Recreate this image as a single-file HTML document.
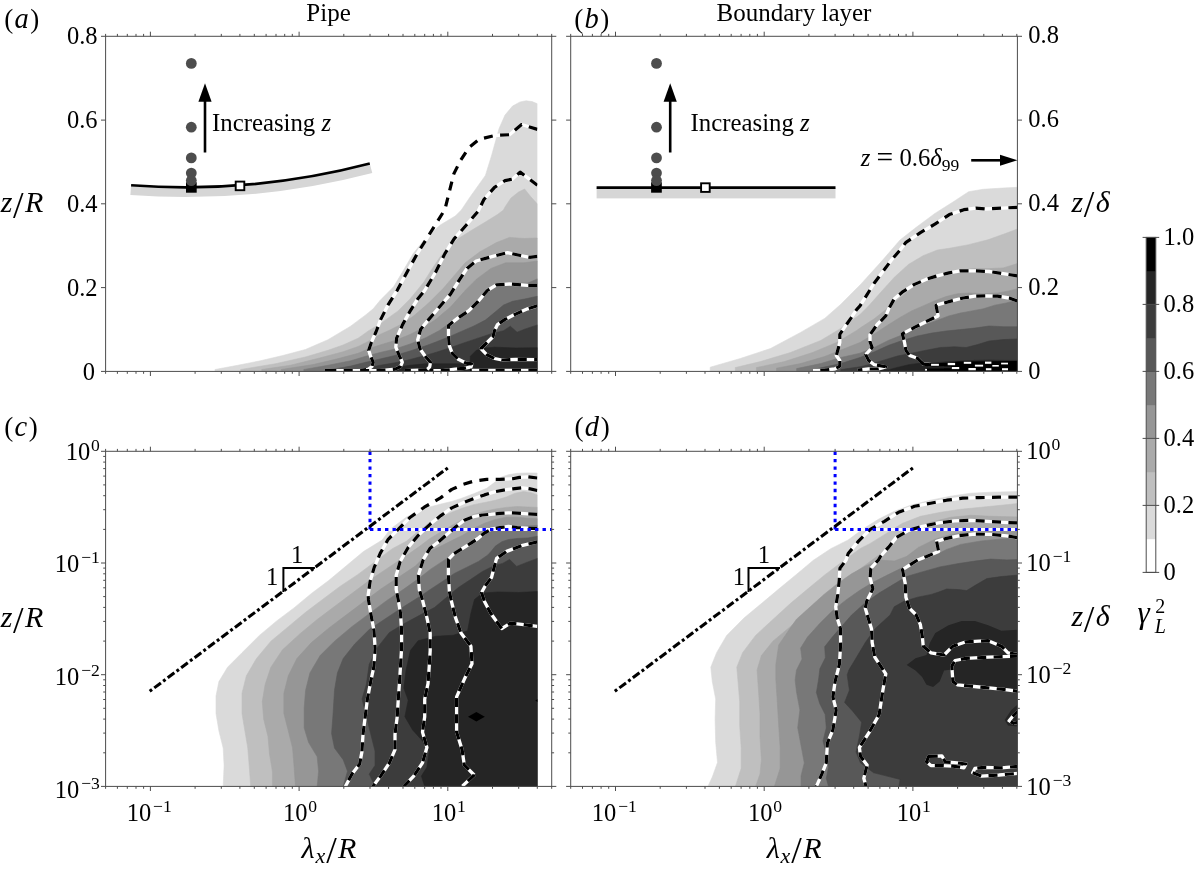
<!DOCTYPE html>
<html><head><meta charset="utf-8"><title>Figure</title>
<style>
html,body{margin:0;padding:0;background:#fff;}
body{width:1195px;height:872px;overflow:hidden;font-family:"Liberation Serif",serif;}
svg text{font-family:"Liberation Serif",serif;fill:#000;}
.i{font-style:italic}
</style></head><body>
<svg width="1195" height="872" viewBox="0 0 1195 872" style="display:block">
<rect width="1195" height="872" fill="#fff"/>
<defs>
<clipPath id="ca"><rect x="105.6" y="36.3" width="431.8" height="335.1"/></clipPath>
<clipPath id="cb"><rect x="570.7" y="36.3" width="446.7" height="335.1"/></clipPath>
<clipPath id="cc"><rect x="105.6" y="451.3" width="431.8" height="335.1"/></clipPath>
<clipPath id="cd"><rect x="570.7" y="451.3" width="446.7" height="335.1"/></clipPath>
</defs>
<g clip-path="url(#ca)">
<polygon points="537.4,103.8 532.1,101.6 526.1,100.8 520.1,101.9 512.5,106.1 505.0,115.1 499.0,128.7 491.5,155.8 485.4,175.4 470.4,196.5 461.3,210.0 455.3,216.0 440.3,225.0 425.2,238.6 413.1,253.7 402.6,271.8 393.6,286.8 380.0,300.5 373.2,308.8 365.7,314.9 350.6,326.2 328.0,339.7 305.4,349.5 282.8,355.5 260.3,360.8 237.7,365.3 215.0,369.5 215.0,373.4 537.4,373.4 537.4,103.8" fill="#dadada" stroke="#dadada" stroke-width="0.6"/>
<polygon points="537.4,204.0 530.6,196.5 524.6,189.0 518.6,192.0 511.0,198.0 505.0,207.0 503.5,210.0 497.5,214.5 485.4,222.0 470.4,231.0 458.3,238.6 447.8,247.7 440.3,256.7 431.2,270.2 423.7,282.3 410.1,298.9 398.1,310.9 380.0,323.9 368.7,330.7 358.2,338.2 343.1,345.0 328.0,350.3 305.4,357.0 275.3,363.8 240.7,369.5 240.7,373.4 537.4,373.4 537.4,204.0" fill="#bfbfbf" stroke="#bfbfbf" stroke-width="0.6"/>
<polygon points="537.3,238.0 524.1,238.5 509.4,237.4 496.5,242.6 479.9,251.8 465.2,262.8 454.1,275.7 443.1,288.6 428.4,303.3 413.6,316.0 400.8,324.5 390.0,330.0 380.0,334.5 368.7,341.2 358.2,346.5 343.1,351.8 320.5,357.8 290.4,365.3 261.8,369.5 261.8,373.4 537.4,373.4 537.4,238.0" fill="#aaaaaa" stroke="#aaaaaa" stroke-width="0.6"/>
<polygon points="537.3,261.0 524.1,262.8 505.7,262.8 491.0,268.4 476.2,279.4 465.2,290.5 450.5,307.0 435.7,319.5 421.0,329.0 410.0,334.5 395.0,340.5 380.0,345.0 368.7,348.7 358.2,353.3 335.6,359.3 313.0,364.6 281.3,369.5 281.3,373.4 537.4,373.4 537.4,261.0" fill="#969696" stroke="#969696" stroke-width="0.6"/>
<polygon points="537.3,278.9 527.8,283.1 505.7,283.1 492.8,286.8 479.9,297.8 468.9,308.9 454.1,319.9 439.4,330.5 425.2,338.0 410.1,344.0 395.1,349.0 380.0,352.5 365.7,356.3 350.6,360.8 328.0,365.3 303.9,369.5 303.9,373.4 537.4,373.4 537.4,278.9" fill="#787878" stroke="#787878" stroke-width="0.6"/>
<polygon points="537.4,296.3 524.6,299.0 512.5,301.3 503.5,305.1 494.5,312.6 485.4,320.1 473.4,326.2 461.3,331.4 449.3,336.7 437.2,341.5 425.2,346.0 410.1,351.0 395.1,355.5 380.0,359.0 365.7,362.3 350.6,366.1 331.0,369.5 331.0,373.4 537.4,373.4 537.4,296.3" fill="#585858" stroke="#585858" stroke-width="0.6"/>
<polygon points="537.4,324.9 524.6,329.2 517.1,332.2 510.3,326.2 503.5,330.7 491.5,333.7 477.9,338.2 464.4,342.7 450.8,347.5 437.2,352.0 425.2,355.5 410.1,359.5 395.1,362.8 380.0,365.3 358.0,370.0 358.0,373.4 537.4,373.4 537.4,324.9" fill="#3c3c3c" stroke="#3c3c3c" stroke-width="0.6"/>
<polygon points="537.4,347.7 515.6,348.0 494.5,347.2 485.4,348.0 476.4,350.3 470.4,356.3 470.1,363.8 440.3,363.8 425.2,363.8 410.1,365.3 395.1,367.6 380.0,369.8 380.0,373.4 537.4,373.4 537.4,347.7" fill="#252525" stroke="#252525" stroke-width="0.6"/>
</g>
<g clip-path="url(#cb)">
<polygon points="1017.4,187.3 1002.3,188.1 983.0,189.3 968.6,191.7 954.1,201.3 934.9,213.4 915.6,227.8 900.0,240.0 880.9,262.1 860.8,284.2 840.8,304.3 824.7,318.4 800.6,332.4 770.5,348.5 740.3,358.5 710.2,367.2 710.2,373.4 1017.4,373.4 1017.4,187.3" fill="#dadada" stroke="#dadada" stroke-width="0.6"/>
<polygon points="1017.4,229.0 1004.7,233.8 987.9,239.8 968.6,244.7 949.3,248.3 937.4,250.0 923.1,255.7 908.7,264.3 894.4,277.2 880.1,293.0 868.6,305.9 860.0,314.5 840.8,328.4 820.7,340.5 790.5,352.5 760.4,361.6 735.3,367.6 735.3,373.4 1017.4,373.4 1017.4,229.0" fill="#bfbfbf" stroke="#bfbfbf" stroke-width="0.6"/>
<polygon points="1017.4,263.6 1003.3,267.9 989.0,268.6 974.7,268.6 960.3,270.1 946.0,272.9 931.7,277.2 917.3,284.4 905.9,293.0 888.7,307.3 874.3,318.8 860.0,328.1 856.8,330.4 836.7,342.5 812.6,352.5 784.5,361.6 756.4,367.6 756.4,373.4 1017.4,373.4 1017.4,263.6" fill="#aaaaaa" stroke="#aaaaaa" stroke-width="0.6"/>
<polygon points="1017.4,288.7 1009.1,290.9 997.6,293.0 983.3,293.7 968.9,293.0 957.5,293.7 946.0,296.6 934.5,300.9 923.1,305.9 911.6,310.9 900.1,317.4 888.7,324.5 874.3,333.9 860.0,342.5 844.8,348.5 824.7,356.5 800.6,363.6 776.5,368.2 776.5,373.4 1017.4,373.4 1017.4,288.7" fill="#969696" stroke="#969696" stroke-width="0.6"/>
<polygon points="1017.4,300.2 1006.2,303.0 994.7,305.2 983.3,308.8 971.8,310.9 960.3,313.1 948.9,315.9 937.4,320.2 925.9,324.5 914.5,328.8 903.0,334.6 888.7,340.3 874.3,347.5 860.0,353.2 840.8,357.5 820.7,363.6 796.6,368.6 796.6,373.4 1017.4,373.4 1017.4,300.2" fill="#787878" stroke="#787878" stroke-width="0.6"/>
<polygon points="1017.4,326.7 1003.3,326.7 989.0,326.0 974.7,328.1 960.3,329.6 946.0,331.0 931.7,333.1 917.3,336.0 903.0,340.3 888.7,345.3 874.3,351.8 860.0,357.5 840.8,363.6 812.6,369.6 812.6,373.4 1017.4,373.4 1017.4,326.7" fill="#585858" stroke="#585858" stroke-width="0.6"/>
<polygon points="1017.4,338.9 1003.3,339.6 989.0,341.0 977.5,344.6 966.1,347.5 954.6,346.8 940.3,347.5 925.9,350.3 911.6,353.2 897.3,356.1 882.9,360.4 868.6,364.7 860.0,366.8 840.8,369.6 840.8,373.4 1017.4,373.4 1017.4,338.9" fill="#3c3c3c" stroke="#3c3c3c" stroke-width="0.6"/>
<polygon points="1017.4,360.4 1003.3,360.4 989.0,360.1 974.7,360.4 960.3,361.1 946.0,361.8 931.7,363.2 920.2,363.2 908.7,364.7 897.3,367.5 888.7,369.7 876.9,369.6 876.9,373.4 1017.4,373.4 1017.4,360.4" fill="#252525" stroke="#252525" stroke-width="0.6"/>
</g>
<g clip-path="url(#cc)">
<polygon points="537.3,473.1 528.1,472.9 517.2,473.3 508.5,474.7 501.9,476.9 495.4,481.8 486.7,488.3 473.6,493.8 460.5,498.7 451.8,501.4 440.9,504.1 430.0,506.9 422.3,509.2 406.3,517.2 390.2,529.3 382.2,540.0 363.4,551.6 346.1,566.0 328.7,580.5 311.4,593.5 294.0,607.9 276.7,620.9 259.4,635.4 242.0,652.7 227.6,667.2 218.9,681.6 216.0,696.1 216.0,713.4 218.9,730.8 223.2,748.1 224.1,765.4 223.2,786.4 223.2,788.4 537.4,788.4 537.4,473.1" fill="#dadada" stroke="#dadada" stroke-width="0.6"/>
<polygon points="537.3,494.9 531.3,492.7 523.7,491.6 515.0,493.2 506.3,497.0 495.4,500.3 484.5,502.5 473.6,504.7 462.7,507.9 451.8,512.3 440.9,517.2 430.0,522.1 418.3,531.3 406.3,541.3 392.3,548.7 375.0,561.7 357.6,574.7 340.3,586.2 322.9,599.2 305.6,612.3 288.3,626.7 270.9,641.2 256.5,658.5 246.4,675.8 242.0,693.2 242.0,713.4 244.9,730.8 247.8,748.1 249.2,765.4 250.7,786.4 250.7,788.4 537.4,788.4 537.4,494.9" fill="#bfbfbf" stroke="#bfbfbf" stroke-width="0.6"/>
<polygon points="537.3,507.4 528.1,507.1 517.2,506.6 506.3,507.4 495.4,509.0 484.5,511.2 473.6,514.5 462.7,519.4 451.8,525.4 440.9,531.9 430.0,538.5 418.3,547.3 403.9,557.3 386.5,568.9 369.2,580.5 351.8,593.5 334.5,606.5 317.2,619.5 299.8,633.9 282.5,649.8 270.9,667.2 265.1,684.5 262.3,701.8 263.7,719.2 268.0,736.5 269.5,753.9 272.4,771.2 272.4,786.4 272.4,788.4 537.4,788.4 537.4,507.4" fill="#aaaaaa" stroke="#aaaaaa" stroke-width="0.6"/>
<polygon points="537.3,518.8 528.1,518.3 517.2,517.2 506.3,517.2 495.4,519.4 484.5,523.2 473.6,528.6 462.7,535.2 451.8,540.6 440.9,546.1 430.0,551.5 415.4,566.0 398.1,577.6 380.8,589.1 363.4,602.1 346.1,615.1 328.7,628.2 311.4,642.6 296.9,658.5 288.3,675.8 283.9,693.2 283.9,713.4 288.3,730.8 292.6,748.1 294.0,765.4 295.5,786.4 295.5,788.4 537.4,788.4 537.4,518.8" fill="#969696" stroke="#969696" stroke-width="0.6"/>
<polygon points="537.3,525.4 528.1,525.9 495.4,529.7 486.7,531.9 477.9,538.5 469.2,545.0 460.5,550.4 451.8,555.0 442.4,561.4 430.3,569.4 420.0,577.6 403.9,589.1 386.5,600.7 369.2,613.7 351.8,626.7 334.5,641.2 320.1,655.6 309.9,673.0 305.6,690.3 304.2,707.6 304.2,727.9 308.5,742.3 317.2,756.8 318.6,771.2 317.2,786.4 317.2,788.4 537.4,788.4 537.4,525.4" fill="#787878" stroke="#787878" stroke-width="0.6"/>
<polygon points="537.3,536.3 528.1,537.9 517.2,538.5 508.5,539.5 501.9,541.7 495.4,546.1 491.0,551.5 487.8,555.0 478.5,561.4 466.5,567.4 454.4,573.4 442.4,581.5 430.3,589.5 420.0,596.4 403.9,606.5 386.5,618.0 369.2,629.6 354.7,644.0 343.2,658.5 337.4,673.0 334.5,690.3 333.1,713.4 331.6,733.6 334.5,748.1 343.2,759.7 347.5,771.2 343.2,786.4 343.2,788.4 537.4,788.4 537.4,536.3" fill="#585858" stroke="#585858" stroke-width="0.6"/>
<polygon points="537.3,558.4 526.7,562.4 516.6,566.4 509.6,559.4 502.6,563.4 494.6,565.4 482.5,571.4 470.5,579.5 458.4,587.5 446.4,597.5 434.4,607.6 420.0,615.1 403.9,623.8 389.4,632.5 377.9,646.9 369.2,664.3 366.3,684.5 362.0,699.0 366.3,716.3 370.6,733.6 375.0,751.0 375.0,765.4 369.2,774.1 375.0,786.4 375.0,788.4 537.4,788.4 537.4,558.4" fill="#3c3c3c" stroke="#3c3c3c" stroke-width="0.6"/>
<polygon points="537.3,591.5 518.6,592.5 498.6,591.9 482.5,593.1 474.5,599.5 470.9,613.2 467.6,630.8 453.3,635.2 435.7,636.3 418.1,640.7 410.4,650.6 406.0,670.5 403.8,688.1 408.2,700.2 404.9,716.7 412.6,729.9 422.5,740.9 429.1,751.9 426.9,767.3 421.4,776.1 424.7,786.4 424.7,788.4 537.4,788.4 537.4,591.5" fill="#252525" stroke="#252525" stroke-width="0.6"/>
<polygon points="468.0,716.7 476.4,711.9 484.8,716.7 476.4,721.5" fill="#000000"/>
<polygon points="538.0,699.0 535.2,700.6 538.0,702.2" fill="#000000"/>
</g>
<g clip-path="url(#cd)">
<polygon points="1017.4,491.6 990.8,492.2 970.8,493.2 950.7,496.2 930.6,500.2 910.5,505.3 894.4,511.3 878.4,519.3 862.3,529.4 848.1,540.0 830.8,548.7 813.4,560.2 796.1,574.7 778.7,589.1 761.4,603.6 744.0,618.0 726.7,635.4 716.6,652.7 710.8,667.2 712.3,681.6 715.7,699.0 715.1,719.2 715.7,742.3 717.5,762.5 712.3,777.0 707.9,786.4 707.9,788.4 1017.4,788.4 1017.4,491.6" fill="#dadada" stroke="#dadada" stroke-width="0.6"/>
<polygon points="1017.4,503.6 1000.9,505.3 980.8,507.3 960.7,509.3 940.6,512.3 920.5,516.3 902.5,523.3 886.4,533.4 870.3,543.4 860.0,548.7 842.3,561.7 825.0,574.7 807.6,589.1 790.3,603.6 772.9,619.5 755.6,635.4 742.6,652.7 736.8,667.2 738.3,684.5 739.7,701.8 739.7,725.0 741.2,748.1 741.2,768.3 735.4,786.4 735.4,788.4 1017.4,788.4 1017.4,503.6" fill="#bfbfbf" stroke="#bfbfbf" stroke-width="0.6"/>
<polygon points="1017.4,516.9 990.8,516.3 970.8,515.3 950.7,517.3 930.6,522.3 914.5,528.4 902.5,535.4 890.4,545.4 878.4,555.5 860.0,568.9 842.3,581.9 825.0,596.4 807.6,610.8 790.3,626.7 772.9,641.2 761.4,655.6 757.1,670.1 758.5,690.3 760.0,713.4 760.0,736.5 761.4,759.7 760.0,774.1 755.6,786.4 755.6,788.4 1017.4,788.4 1017.4,516.9" fill="#aaaaaa" stroke="#aaaaaa" stroke-width="0.6"/>
<polygon points="1017.4,529.6 990.8,530.4 970.8,531.4 950.7,534.4 934.6,539.4 918.5,547.4 906.5,556.5 894.4,561.0 879.1,560.0 865.3,566.2 851.6,573.8 837.8,583.4 824.0,594.4 810.3,606.8 796.5,619.2 790.3,628.0 778.7,645.0 775.8,665.0 775.8,678.7 777.3,701.8 778.7,725.0 780.2,748.1 780.2,768.3 774.4,786.4 774.4,788.4 1017.4,788.4 1017.4,529.6" fill="#969696" stroke="#969696" stroke-width="0.6"/>
<polygon points="1017.4,537.8 1000.9,539.0 980.8,541.0 960.7,544.4 946.7,549.4 934.6,555.5 923.1,560.0 914.9,562.8 901.1,568.3 887.3,575.1 873.6,582.0 859.8,590.3 846.1,599.9 832.3,610.9 819.9,623.3 807.5,637.1 800.6,648.1 802.0,659.1 796.5,670.1 795.1,680.0 796.6,692.5 799.9,710.1 797.7,727.7 801.0,745.3 804.3,762.9 801.0,776.1 801.0,786.4 801.0,788.4 1017.4,788.4 1017.4,537.8" fill="#787878" stroke="#787878" stroke-width="0.6"/>
<polygon points="1017.4,559.5 1006.9,559.9 990.8,559.1 974.8,561.1 958.7,563.5 940.0,566.9 920.4,572.4 906.6,576.5 892.8,584.8 879.1,593.0 865.3,602.7 851.6,615.0 841.9,626.1 832.3,637.1 824.7,646.7 825.4,657.7 819.9,668.7 818.5,680.0 816.4,692.5 819.7,703.5 825.2,714.5 826.3,727.7 823.0,740.9 826.3,754.1 828.5,767.3 826.3,778.3 828.5,786.4 828.5,788.4 1017.4,788.4 1017.4,559.5" fill="#585858" stroke="#585858" stroke-width="0.6"/>
<polygon points="1017.4,575.1 1000.9,576.6 986.8,578.6 974.8,585.6 966.7,590.6 958.7,589.6 946.7,589.0 940.0,591.6 931.4,594.4 917.6,597.2 903.9,601.3 894.2,606.8 890.1,615.0 875.0,628.8 865.3,642.6 857.1,656.3 848.8,670.1 847.2,674.9 849.4,690.3 844.6,702.4 852.7,711.2 861.6,722.2 859.4,736.5 856.0,751.9 860.5,762.9 873.7,772.8 886.9,776.1 900.1,779.4 899.0,786.4 899.0,788.4 1017.4,788.4 1017.4,575.1" fill="#3c3c3c" stroke="#3c3c3c" stroke-width="0.6"/>
<polygon points="1019.0,629.7 1001.4,630.8 988.2,625.3 974.9,620.9 961.7,620.9 948.5,625.3 935.3,633.0 929.8,642.9 926.5,655.0 915.5,658.3 906.7,664.9 915.5,670.5 922.1,677.1 926.5,684.8 933.1,687.0 939.7,681.5 944.1,670.5 951.8,669.4 952.9,681.5 957.3,684.8 979.3,687.0 1001.4,689.2 1019.0,691.4" fill="#252525"/>
<polygon points="1019.0,703.5 1011.3,710.1 1004.7,720.0 1008.0,725.5 1019.0,726.6" fill="#252525"/>
</g>

<g clip-path="url(#cc)"><path d="M370.0 451.3 V529.4 H551.7" stroke="#fff" stroke-width="3" fill="none"/></g>
<g clip-path="url(#cd)"><path d="M835.1 451.3 V529.4 H1017.4" stroke="#fff" stroke-width="3" fill="none"/></g>
<g clip-path="url(#ca)" fill="none" stroke-linejoin="round">
<path d="M537.4 129.4 L521.6 124.5 L509.5 134.7 L494.5 135.5 L479.4 139.2 L468.9 147.5 L460.6 160.3 L453.8 173.9 L448.6 194.7 L444.9 209.5 L435.7 224.2 L426.5 238.9 L417.3 253.6 L408.1 270.2 L397.1 290.5 L387.9 305.2 L380.5 319.9 L376.0 332.0 L371.5 342.0 L368.7 350.2 L370.5 356.0 L373.2 362.3 L372.0 366.5 L368.0 369.3 L358.0 370.6 L325.0 370.6" stroke="#fff" stroke-width="3.3"/>
<path d="M537.4 129.4 L521.6 124.5 L509.5 134.7 L494.5 135.5 L479.4 139.2 L468.9 147.5 L460.6 160.3 L453.8 173.9 L448.6 194.7 L444.9 209.5 L435.7 224.2 L426.5 238.9 L417.3 253.6 L408.1 270.2 L397.1 290.5 L387.9 305.2 L380.5 319.9 L376.0 332.0 L371.5 342.0 L368.7 350.2 L370.5 356.0 L373.2 362.3 L372.0 366.5 L368.0 369.3 L358.0 370.6 L325.0 370.6" stroke="#000" stroke-width="3.2" stroke-dasharray="9 7.4"/>
<path d="M537.4 185.2 L520.1 172.1 L512.5 179.1 L505.0 180.6 L494.5 187.4 L483.9 199.5 L478.1 211.3 L467.0 224.2 L454.1 238.9 L444.9 253.6 L435.7 272.0 L424.7 290.5 L417.7 299.0 L410.1 311.1 L402.6 324.6 L396.6 338.2 L395.8 347.2 L399.6 356.3 L402.3 362.3 L400.3 366.8 L395.1 369.1 L380.0 370.6 L330.0 370.6" stroke="#fff" stroke-width="3.3"/>
<path d="M537.4 185.2 L520.1 172.1 L512.5 179.1 L505.0 180.6 L494.5 187.4 L483.9 199.5 L478.1 211.3 L467.0 224.2 L454.1 238.9 L444.9 253.6 L435.7 272.0 L424.7 290.5 L417.7 299.0 L410.1 311.1 L402.6 324.6 L396.6 338.2 L395.8 347.2 L399.6 356.3 L402.3 362.3 L400.3 366.8 L395.1 369.1 L380.0 370.6 L330.0 370.6" stroke="#000" stroke-width="3.2" stroke-dasharray="9 7.4"/>
<path d="M537.3 256.4 L529.6 257.3 L520.4 255.5 L507.5 252.7 L492.8 256.4 L476.2 261.0 L467.0 268.4 L459.7 279.4 L450.5 294.1 L439.4 307.0 L428.4 319.9 L420.7 329.2 L417.7 339.7 L419.9 348.7 L425.2 356.3 L430.5 362.3 L429.7 366.8 L426.7 369.8 L405.0 370.6" stroke="#fff" stroke-width="3.3"/>
<path d="M537.3 256.4 L529.6 257.3 L520.4 255.5 L507.5 252.7 L492.8 256.4 L476.2 261.0 L467.0 268.4 L459.7 279.4 L450.5 294.1 L439.4 307.0 L428.4 319.9 L420.7 329.2 L417.7 339.7 L419.9 348.7 L425.2 356.3 L430.5 362.3 L429.7 366.8 L426.7 369.8 L405.0 370.6" stroke="#000" stroke-width="3.2" stroke-dasharray="9 7.4"/>
<path d="M537.3 285.3 L527.8 285.3 L509.4 284.0 L496.5 284.9 L487.3 290.5 L478.1 301.5 L468.9 310.7 L457.8 318.1 L448.5 325.4 L448.5 335.2 L449.3 345.7 L452.3 353.3 L458.3 359.3 L465.9 363.1 L471.9 363.8 L471.1 366.8 L464.4 368.3 L455.3 369.1 L443.3 370.6 L430.0 370.6" stroke="#fff" stroke-width="3.3"/>
<path d="M537.3 285.3 L527.8 285.3 L509.4 284.0 L496.5 284.9 L487.3 290.5 L478.1 301.5 L468.9 310.7 L457.8 318.1 L448.5 325.4 L448.5 335.2 L449.3 345.7 L452.3 353.3 L458.3 359.3 L465.9 363.1 L471.9 363.8 L471.1 366.8 L464.4 368.3 L455.3 369.1 L443.3 370.6 L430.0 370.6" stroke="#000" stroke-width="3.2" stroke-dasharray="9 7.4"/>
<path d="M537.4 305.8 L527.6 308.8 L515.6 314.1 L505.0 319.4 L497.5 324.6 L494.5 330.7 L493.0 336.7 L486.9 342.7 L480.9 348.7 L486.9 354.8 L494.5 358.5 L502.0 360.0 L515.6 359.3 L537.4 359.6" stroke="#fff" stroke-width="3.3"/>
<path d="M537.4 305.8 L527.6 308.8 L515.6 314.1 L505.0 319.4 L497.5 324.6 L494.5 330.7 L493.0 336.7 L486.9 342.7 L480.9 348.7 L486.9 354.8 L494.5 358.5 L502.0 360.0 L515.6 359.3 L537.4 359.6" stroke="#000" stroke-width="3.2" stroke-dasharray="9 7.4"/>
<path d="M537.4 370.3 L470.0 370.3" stroke="#fff" stroke-width="3.3"/>
<path d="M537.4 370.3 L470.0 370.3" stroke="#000" stroke-width="3.2" stroke-dasharray="9 7.4"/>
</g>
<g clip-path="url(#cb)" fill="none" stroke-linejoin="round">
<path d="M1017.4 207.3 L1002.3 208.1 L985.5 209.0 L975.8 208.1 L963.8 209.7 L949.3 214.6 L934.9 224.2 L920.4 232.6 L906.0 242.3 L900.1 250.0 L891.5 260.0 L882.9 271.5 L874.3 283.0 L867.2 294.4 L860.0 305.9 L856.8 309.3 L850.8 318.4 L843.8 328.4 L839.8 334.4 L839.8 342.5 L837.7 350.5 L836.3 355.5 L839.8 360.5 L839.8 366.2 L834.7 369.0 L824.7 370.2 L812.6 370.6" stroke="#fff" stroke-width="3.3"/>
<path d="M1017.4 207.3 L1002.3 208.1 L985.5 209.0 L975.8 208.1 L963.8 209.7 L949.3 214.6 L934.9 224.2 L920.4 232.6 L906.0 242.3 L900.1 250.0 L891.5 260.0 L882.9 271.5 L874.3 283.0 L867.2 294.4 L860.0 305.9 L856.8 309.3 L850.8 318.4 L843.8 328.4 L839.8 334.4 L839.8 342.5 L837.7 350.5 L836.3 355.5 L839.8 360.5 L839.8 366.2 L834.7 369.0 L824.7 370.2 L812.6 370.6" stroke="#000" stroke-width="3.2" stroke-dasharray="9 7.4"/>
<path d="M1017.4 275.8 L1003.3 273.7 L989.0 271.5 L974.7 270.8 L960.3 270.8 L948.9 272.9 L937.4 275.8 L925.9 279.4 L914.5 284.4 L903.0 291.6 L894.4 298.7 L888.7 308.8 L885.8 315.9 L877.2 324.5 L870.0 334.6 L870.0 341.7 L872.2 347.5 L865.7 354.6 L868.6 360.4 L874.3 364.7 L885.8 366.8 L878.6 369.0 L868.6 369.0 L857.8 370.2" stroke="#fff" stroke-width="3.3"/>
<path d="M1017.4 275.8 L1003.3 273.7 L989.0 271.5 L974.7 270.8 L960.3 270.8 L948.9 272.9 L937.4 275.8 L925.9 279.4 L914.5 284.4 L903.0 291.6 L894.4 298.7 L888.7 308.8 L885.8 315.9 L877.2 324.5 L870.0 334.6 L870.0 341.7 L872.2 347.5 L865.7 354.6 L868.6 360.4 L874.3 364.7 L885.8 366.8 L878.6 369.0 L868.6 369.0 L857.8 370.2" stroke="#000" stroke-width="3.2" stroke-dasharray="9 7.4"/>
<path d="M1017.4 300.9 L1009.1 298.0 L997.6 296.2 L986.1 295.9 L974.7 296.2 L963.2 298.0 L951.7 300.9 L936.0 305.2 L938.1 315.9 L925.9 321.7 L914.5 327.4 L902.3 333.9 L904.4 341.7 L905.9 350.3 L909.5 355.4 L917.3 358.2 L923.1 364.0 L931.7 364.7" stroke="#fff" stroke-width="3.3"/>
<path d="M1017.4 300.9 L1009.1 298.0 L997.6 296.2 L986.1 295.9 L974.7 296.2 L963.2 298.0 L951.7 300.9 L936.0 305.2 L938.1 315.9 L925.9 321.7 L914.5 327.4 L902.3 333.9 L904.4 341.7 L905.9 350.3 L909.5 355.4 L917.3 358.2 L923.1 364.0 L931.7 364.7" stroke="#000" stroke-width="3.2" stroke-dasharray="9 7.4"/>
</g>
<g clip-path="url(#cc)" fill="none" stroke-linejoin="round">
<path d="M537.3 478.0 L528.1 476.9 L519.4 477.4 L512.8 478.7 L499.7 479.4 L486.7 479.4 L473.6 481.2 L462.7 484.5 L451.8 489.4 L440.9 497.6 L424.3 507.2 L410.3 517.2 L398.2 529.3 L388.2 539.3 L380.2 553.4 L374.2 567.4 L370.1 581.5 L368.1 595.5 L368.5 600.0 L370.7 613.2 L374.0 630.8 L375.1 648.4 L374.0 666.1 L370.7 681.5 L367.4 699.1 L365.2 716.7 L363.0 734.3 L361.9 751.9 L359.7 764.0 L352.0 773.9 L345.4 786.4" stroke="#fff" stroke-width="3.3"/>
<path d="M537.3 478.0 L528.1 476.9 L519.4 477.4 L512.8 478.7 L499.7 479.4 L486.7 479.4 L473.6 481.2 L462.7 484.5 L451.8 489.4 L440.9 497.6 L424.3 507.2 L410.3 517.2 L398.2 529.3 L388.2 539.3 L380.2 553.4 L374.2 567.4 L370.1 581.5 L368.1 595.5 L368.5 600.0 L370.7 613.2 L374.0 630.8 L375.1 648.4 L374.0 666.1 L370.7 681.5 L367.4 699.1 L365.2 716.7 L363.0 734.3 L361.9 751.9 L359.7 764.0 L352.0 773.9 L345.4 786.4" stroke="#000" stroke-width="3.2" stroke-dasharray="9 7.4"/>
<path d="M537.3 490.5 L530.3 488.9 L522.6 487.8 L512.8 488.9 L506.3 489.6 L495.4 491.6 L484.5 494.9 L473.6 498.7 L462.7 503.0 L451.8 507.9 L440.9 515.6 L430.0 524.3 L418.3 535.3 L408.3 547.3 L400.2 561.4 L396.2 575.4 L396.2 589.5 L398.3 600.0 L400.5 613.2 L401.6 630.8 L401.6 648.4 L400.5 666.1 L399.4 683.7 L398.3 699.1 L397.2 716.7 L395.0 734.3 L395.0 749.7 L389.4 762.9 L380.6 776.1 L372.9 786.4" stroke="#fff" stroke-width="3.3"/>
<path d="M537.3 490.5 L530.3 488.9 L522.6 487.8 L512.8 488.9 L506.3 489.6 L495.4 491.6 L484.5 494.9 L473.6 498.7 L462.7 503.0 L451.8 507.9 L440.9 515.6 L430.0 524.3 L418.3 535.3 L408.3 547.3 L400.2 561.4 L396.2 575.4 L396.2 589.5 L398.3 600.0 L400.5 613.2 L401.6 630.8 L401.6 648.4 L400.5 666.1 L399.4 683.7 L398.3 699.1 L397.2 716.7 L395.0 734.3 L395.0 749.7 L389.4 762.9 L380.6 776.1 L372.9 786.4" stroke="#000" stroke-width="3.2" stroke-dasharray="9 7.4"/>
<path d="M537.3 514.3 L528.1 513.9 L517.2 513.2 L508.5 512.8 L499.7 513.4 L491.0 514.3 L482.3 515.0 L473.6 516.7 L464.9 519.9 L456.2 526.5 L447.4 534.1 L438.7 541.7 L430.0 548.3 L423.3 559.4 L418.3 575.4 L419.3 589.5 L422.5 600.0 L426.9 617.6 L430.2 633.0 L430.2 650.6 L429.1 668.3 L428.0 683.7 L424.7 699.1 L424.7 716.7 L422.5 732.1 L426.9 747.5 L422.5 762.9 L413.7 776.1 L403.8 786.4" stroke="#fff" stroke-width="3.3"/>
<path d="M537.3 514.3 L528.1 513.9 L517.2 513.2 L508.5 512.8 L499.7 513.4 L491.0 514.3 L482.3 515.0 L473.6 516.7 L464.9 519.9 L456.2 526.5 L447.4 534.1 L438.7 541.7 L430.0 548.3 L423.3 559.4 L418.3 575.4 L419.3 589.5 L422.5 600.0 L426.9 617.6 L430.2 633.0 L430.2 650.6 L429.1 668.3 L428.0 683.7 L424.7 699.1 L424.7 716.7 L422.5 732.1 L426.9 747.5 L422.5 762.9 L413.7 776.1 L403.8 786.4" stroke="#000" stroke-width="3.2" stroke-dasharray="9 7.4"/>
<path d="M537.3 528.6 L528.1 528.1 L517.2 527.6 L508.5 526.5 L499.7 527.6 L491.0 529.2 L484.5 533.0 L477.9 538.5 L471.4 542.8 L462.7 548.3 L454.0 553.7 L448.4 559.4 L448.4 575.4 L449.4 591.5 L451.1 600.0 L455.5 617.6 L461.0 633.0 L470.9 646.2 L472.0 663.8 L464.3 679.3 L456.6 696.9 L456.6 714.5 L456.6 732.1 L462.1 749.7 L464.3 765.1 L474.2 775.0 L462.1 786.4" stroke="#fff" stroke-width="3.3"/>
<path d="M537.3 528.6 L528.1 528.1 L517.2 527.6 L508.5 526.5 L499.7 527.6 L491.0 529.2 L484.5 533.0 L477.9 538.5 L471.4 542.8 L462.7 548.3 L454.0 553.7 L448.4 559.4 L448.4 575.4 L449.4 591.5 L451.1 600.0 L455.5 617.6 L461.0 633.0 L470.9 646.2 L472.0 663.8 L464.3 679.3 L456.6 696.9 L456.6 714.5 L456.6 732.1 L462.1 749.7 L464.3 765.1 L474.2 775.0 L462.1 786.4" stroke="#000" stroke-width="3.2" stroke-dasharray="9 7.4"/>
<path d="M537.3 541.9 L522.7 545.3 L506.6 551.4 L496.6 558.4 L493.6 569.4 L491.5 577.5 L485.5 585.5 L481.5 592.5 L484.5 601.5 L490.7 613.2 L501.7 628.6 L510.5 623.1 L523.7 624.7 L537.3 626.4" stroke="#fff" stroke-width="3.3"/>
<path d="M537.3 541.9 L522.7 545.3 L506.6 551.4 L496.6 558.4 L493.6 569.4 L491.5 577.5 L485.5 585.5 L481.5 592.5 L484.5 601.5 L490.7 613.2 L501.7 628.6 L510.5 623.1 L523.7 624.7 L537.3 626.4" stroke="#000" stroke-width="3.2" stroke-dasharray="9 7.4"/>
</g>
<g clip-path="url(#cd)" fill="none" stroke-linejoin="round">
<path d="M1017.4 497.2 L998.9 497.2 L978.8 497.6 L962.7 498.2 L946.7 500.2 L930.6 503.2 L914.5 506.3 L898.5 512.3 L884.4 521.3 L870.3 529.4 L858.3 541.4 L848.2 553.5 L846.1 560.0 L839.9 568.3 L839.2 580.6 L837.8 594.4 L835.7 606.8 L837.1 617.8 L840.5 628.8 L840.6 644.0 L839.5 663.8 L835.1 681.5 L832.9 696.9 L836.2 710.1 L832.9 729.9 L827.4 743.1 L826.3 762.9 L821.9 773.9 L816.4 786.4" stroke="#fff" stroke-width="3.3"/>
<path d="M1017.4 497.2 L998.9 497.2 L978.8 497.6 L962.7 498.2 L946.7 500.2 L930.6 503.2 L914.5 506.3 L898.5 512.3 L884.4 521.3 L870.3 529.4 L858.3 541.4 L848.2 553.5 L846.1 560.0 L839.9 568.3 L839.2 580.6 L837.8 594.4 L835.7 606.8 L837.1 617.8 L840.5 628.8 L840.6 644.0 L839.5 663.8 L835.1 681.5 L832.9 696.9 L836.2 710.1 L832.9 729.9 L827.4 743.1 L826.3 762.9 L821.9 773.9 L816.4 786.4" stroke="#000" stroke-width="3.2" stroke-dasharray="9 7.4"/>
<path d="M1017.4 522.9 L1002.9 522.3 L986.8 521.3 L970.8 520.3 L954.7 520.9 L938.6 522.9 L922.6 526.3 L908.5 530.4 L896.4 537.4 L888.4 547.4 L880.4 556.5 L878.4 560.0 L870.8 568.3 L870.1 577.9 L872.9 588.9 L866.7 601.3 L865.3 608.2 L868.1 617.8 L871.5 628.8 L872.2 642.6 L874.8 657.2 L885.8 673.8 L882.5 692.5 L879.2 714.5 L869.3 732.1 L859.4 747.5 L860.5 756.3 L867.1 765.1 L863.8 778.3 L866.0 786.4" stroke="#fff" stroke-width="3.3"/>
<path d="M1017.4 522.9 L1002.9 522.3 L986.8 521.3 L970.8 520.3 L954.7 520.9 L938.6 522.9 L922.6 526.3 L908.5 530.4 L896.4 537.4 L888.4 547.4 L880.4 556.5 L878.4 560.0 L870.8 568.3 L870.1 577.9 L872.9 588.9 L866.7 601.3 L865.3 608.2 L868.1 617.8 L871.5 628.8 L872.2 642.6 L874.8 657.2 L885.8 673.8 L882.5 692.5 L879.2 714.5 L869.3 732.1 L859.4 747.5 L860.5 756.3 L867.1 765.1 L863.8 778.3 L866.0 786.4" stroke="#000" stroke-width="3.2" stroke-dasharray="9 7.4"/>
<path d="M1017.4 537.8 L1006.9 535.8 L990.8 534.4 L974.8 534.0 L958.7 535.8 L946.7 538.4 L936.6 541.4 L938.6 551.4 L926.6 556.5 L917.6 560.0 L902.5 569.6 L905.2 583.4 L905.9 597.2 L909.4 608.2 L916.2 615.0 L920.4 624.7 L922.4 637.1 L923.2 646.2 L930.9 652.8 L944.1 655.0 L952.9 646.2 L966.1 641.8 L988.2 640.7 L1001.4 646.2 L1008.0 652.8 L1019.0 655.0" stroke="#fff" stroke-width="3.3"/>
<path d="M1017.4 537.8 L1006.9 535.8 L990.8 534.4 L974.8 534.0 L958.7 535.8 L946.7 538.4 L936.6 541.4 L938.6 551.4 L926.6 556.5 L917.6 560.0 L902.5 569.6 L905.2 583.4 L905.9 597.2 L909.4 608.2 L916.2 615.0 L920.4 624.7 L922.4 637.1 L923.2 646.2 L930.9 652.8 L944.1 655.0 L952.9 646.2 L966.1 641.8 L988.2 640.7 L1001.4 646.2 L1008.0 652.8 L1019.0 655.0" stroke="#000" stroke-width="3.2" stroke-dasharray="9 7.4"/>
<path d="M1019.0 656.1 L988.2 657.2 L966.1 658.3 L955.1 660.5 L951.8 666.1 L952.9 681.5 L957.3 684.8 L979.3 687.0 L1001.4 689.2 L1019.0 691.4" stroke="#fff" stroke-width="3.3"/>
<path d="M1019.0 656.1 L988.2 657.2 L966.1 658.3 L955.1 660.5 L951.8 666.1 L952.9 681.5 L957.3 684.8 L979.3 687.0 L1001.4 689.2 L1019.0 691.4" stroke="#000" stroke-width="3.2" stroke-dasharray="9 7.4"/>
<path d="M1019.0 710.1 L1012.4 716.7 L1009.1 720.7 L1013.5 723.3 L1019.0 722.2" stroke="#fff" stroke-width="3.3"/>
<path d="M1019.0 710.1 L1012.4 716.7 L1009.1 720.7 L1013.5 723.3 L1019.0 722.2" stroke="#000" stroke-width="3.2" stroke-dasharray="9 7.4"/>
<path d="M928.7 756.3 L941.9 755.9 L945.2 761.8 L957.3 762.9 L966.1 764.0 L963.9 767.8 L952.9 766.2 L941.9 765.6 L930.9 765.6 L926.5 761.8Z" stroke="#fff" stroke-width="3.3"/>
<path d="M928.7 756.3 L941.9 755.9 L945.2 761.8 L957.3 762.9 L966.1 764.0 L963.9 767.8 L952.9 766.2 L941.9 765.6 L930.9 765.6 L926.5 761.8Z" stroke="#000" stroke-width="3.2" stroke-dasharray="9 7.4"/>
<path d="M1019.0 766.2 L1001.4 767.8 L983.7 767.3 L974.9 768.4 L972.7 772.8 L981.5 776.1 L999.2 775.0 L1019.0 773.3" stroke="#fff" stroke-width="3.3"/>
<path d="M1019.0 766.2 L1001.4 767.8 L983.7 767.3 L974.9 768.4 L972.7 772.8 L981.5 776.1 L999.2 775.0 L1019.0 773.3" stroke="#000" stroke-width="3.2" stroke-dasharray="9 7.4"/>
</g>
<g clip-path="url(#cb)">
<path d="M921.5 362.4 L923.3 364.2 L931 364.8 L948 364.4" stroke="#000" stroke-width="3.2" fill="none" stroke-linejoin="round"/>
<path d="M926 369.9 H953" stroke="#000" stroke-width="2.8" fill="none"/>
<polygon points="944,363.4 958,361.5 1018,361.1 1018,372 944,372 944,368.4 951,368.4 951,366.6 944,366.2" fill="#000"/>
<rect x="931.1" y="363.8" width="7.8" height="2.0" fill="#fff"/>
<rect x="947.7" y="362.9" width="7.4" height="2.3" fill="#fff"/>
<rect x="951.8" y="367.0" width="7.4" height="2.1" fill="#fff"/>
<rect x="963.8" y="361.8" width="7.4" height="2.0" fill="#fff"/>
<rect x="968.4" y="368.0" width="7.4" height="2.3" fill="#fff"/>
<rect x="974.9" y="364.7" width="8.2" height="1.9" fill="#fff"/>
<rect x="985.0" y="361.6" width="6.4" height="2.2" fill="#fff"/>
<rect x="985.9" y="368.2" width="5.5" height="2.1" fill="#fff"/>
<rect x="992.3" y="365.0" width="6.5" height="1.6" fill="#fff"/>
<rect x="1001.1" y="362.7" width="6.9" height="1.7" fill="#fff"/>
<rect x="1002.0" y="368.2" width="6.0" height="2.1" fill="#fff"/>
<rect x="925.1" y="368.9" width="1.9" height="1.8" fill="#fff"/>
</g>
<path d="M370.0 451.5 V529.4" stroke="#0000ff" stroke-width="3" stroke-dasharray="3.4 4.07" fill="none"/>
<path d="M370.0 529.4 H551.7" stroke="#0000ff" stroke-width="3" stroke-dasharray="3.4 4.1" fill="none"/>
<path d="M835.1 451.5 V529.4" stroke="#0000ff" stroke-width="3" stroke-dasharray="3.4 4.07" fill="none"/>
<path d="M835.1 529.4 H1017.4" stroke="#0000ff" stroke-width="3" stroke-dasharray="3.4 4.1" fill="none"/>
<g stroke="#4d4d4d" stroke-width="1" fill="none">
<rect x="105.6" y="36.3" width="446.1" height="335.1"/>
</g>
<path d="M105.6 371.4 v2.4 M105.6 36.3 v-2.4 M117.4 371.4 v2.4 M117.4 36.3 v-2.4 M127.3 371.4 v2.4 M127.3 36.3 v-2.4 M136.0 371.4 v2.4 M136.0 36.3 v-2.4 M143.6 371.4 v2.4 M143.6 36.3 v-2.4 M150.4 371.4 v4.6 M150.4 36.3 v-4.6 M195.1 371.4 v2.4 M195.1 36.3 v-2.4 M221.3 371.4 v2.4 M221.3 36.3 v-2.4 M239.9 371.4 v2.4 M239.9 36.3 v-2.4 M254.3 371.4 v2.4 M254.3 36.3 v-2.4 M266.1 371.4 v2.4 M266.1 36.3 v-2.4 M276.0 371.4 v2.4 M276.0 36.3 v-2.4 M284.7 371.4 v2.4 M284.7 36.3 v-2.4 M292.3 371.4 v2.4 M292.3 36.3 v-2.4 M299.1 371.4 v4.6 M299.1 36.3 v-4.6 M343.8 371.4 v2.4 M343.8 36.3 v-2.4 M370.0 371.4 v2.4 M370.0 36.3 v-2.4 M388.6 371.4 v2.4 M388.6 36.3 v-2.4 M403.0 371.4 v2.4 M403.0 36.3 v-2.4 M414.8 371.4 v2.4 M414.8 36.3 v-2.4 M424.7 371.4 v2.4 M424.7 36.3 v-2.4 M433.4 371.4 v2.4 M433.4 36.3 v-2.4 M441.0 371.4 v2.4 M441.0 36.3 v-2.4 M447.8 371.4 v4.6 M447.8 36.3 v-4.6 M492.5 371.4 v2.4 M492.5 36.3 v-2.4 M518.7 371.4 v2.4 M518.7 36.3 v-2.4 M537.3 371.4 v2.4 M537.3 36.3 v-2.4 M551.7 371.4 v2.4 M551.7 36.3 v-2.4" stroke="#4d4d4d" stroke-width="1" fill="none"/>
<g stroke="#4d4d4d" stroke-width="1" fill="none">
<rect x="105.6" y="451.3" width="446.1" height="335.1"/>
</g>
<path d="M105.6 786.4 v2.4 M105.6 451.3 v-2.4 M117.4 786.4 v2.4 M117.4 451.3 v-2.4 M127.3 786.4 v2.4 M127.3 451.3 v-2.4 M136.0 786.4 v2.4 M136.0 451.3 v-2.4 M143.6 786.4 v2.4 M143.6 451.3 v-2.4 M150.4 786.4 v4.6 M150.4 451.3 v-4.6 M195.1 786.4 v2.4 M195.1 451.3 v-2.4 M221.3 786.4 v2.4 M221.3 451.3 v-2.4 M239.9 786.4 v2.4 M239.9 451.3 v-2.4 M254.3 786.4 v2.4 M254.3 451.3 v-2.4 M266.1 786.4 v2.4 M266.1 451.3 v-2.4 M276.0 786.4 v2.4 M276.0 451.3 v-2.4 M284.7 786.4 v2.4 M284.7 451.3 v-2.4 M292.3 786.4 v2.4 M292.3 451.3 v-2.4 M299.1 786.4 v4.6 M299.1 451.3 v-4.6 M343.8 786.4 v2.4 M343.8 451.3 v-2.4 M370.0 786.4 v2.4 M370.0 451.3 v-2.4 M388.6 786.4 v2.4 M388.6 451.3 v-2.4 M403.0 786.4 v2.4 M403.0 451.3 v-2.4 M414.8 786.4 v2.4 M414.8 451.3 v-2.4 M424.7 786.4 v2.4 M424.7 451.3 v-2.4 M433.4 786.4 v2.4 M433.4 451.3 v-2.4 M441.0 786.4 v2.4 M441.0 451.3 v-2.4 M447.8 786.4 v4.6 M447.8 451.3 v-4.6 M492.5 786.4 v2.4 M492.5 451.3 v-2.4 M518.7 786.4 v2.4 M518.7 451.3 v-2.4 M537.3 786.4 v2.4 M537.3 451.3 v-2.4 M551.7 786.4 v2.4 M551.7 451.3 v-2.4" stroke="#4d4d4d" stroke-width="1" fill="none"/>
<g stroke="#4d4d4d" stroke-width="1" fill="none">
<rect x="570.7" y="36.3" width="446.7" height="335.1"/>
</g>
<path d="M570.7 371.4 v2.4 M570.7 36.3 v-2.4 M582.5 371.4 v2.4 M582.5 36.3 v-2.4 M592.4 371.4 v2.4 M592.4 36.3 v-2.4 M601.1 371.4 v2.4 M601.1 36.3 v-2.4 M608.7 371.4 v2.4 M608.7 36.3 v-2.4 M615.5 371.4 v4.6 M615.5 36.3 v-4.6 M660.2 371.4 v2.4 M660.2 36.3 v-2.4 M686.4 371.4 v2.4 M686.4 36.3 v-2.4 M705.0 371.4 v2.4 M705.0 36.3 v-2.4 M719.4 371.4 v2.4 M719.4 36.3 v-2.4 M731.2 371.4 v2.4 M731.2 36.3 v-2.4 M741.1 371.4 v2.4 M741.1 36.3 v-2.4 M749.8 371.4 v2.4 M749.8 36.3 v-2.4 M757.4 371.4 v2.4 M757.4 36.3 v-2.4 M764.2 371.4 v4.6 M764.2 36.3 v-4.6 M808.9 371.4 v2.4 M808.9 36.3 v-2.4 M835.1 371.4 v2.4 M835.1 36.3 v-2.4 M853.7 371.4 v2.4 M853.7 36.3 v-2.4 M868.1 371.4 v2.4 M868.1 36.3 v-2.4 M879.9 371.4 v2.4 M879.9 36.3 v-2.4 M889.8 371.4 v2.4 M889.8 36.3 v-2.4 M898.5 371.4 v2.4 M898.5 36.3 v-2.4 M906.1 371.4 v2.4 M906.1 36.3 v-2.4 M912.9 371.4 v4.6 M912.9 36.3 v-4.6 M957.6 371.4 v2.4 M957.6 36.3 v-2.4 M983.8 371.4 v2.4 M983.8 36.3 v-2.4 M1002.4 371.4 v2.4 M1002.4 36.3 v-2.4 M1016.8 371.4 v2.4 M1016.8 36.3 v-2.4" stroke="#4d4d4d" stroke-width="1" fill="none"/>
<g stroke="#4d4d4d" stroke-width="1" fill="none">
<rect x="570.7" y="451.3" width="446.7" height="335.1"/>
</g>
<path d="M570.7 786.4 v2.4 M570.7 451.3 v-2.4 M582.5 786.4 v2.4 M582.5 451.3 v-2.4 M592.4 786.4 v2.4 M592.4 451.3 v-2.4 M601.1 786.4 v2.4 M601.1 451.3 v-2.4 M608.7 786.4 v2.4 M608.7 451.3 v-2.4 M615.5 786.4 v4.6 M615.5 451.3 v-4.6 M660.2 786.4 v2.4 M660.2 451.3 v-2.4 M686.4 786.4 v2.4 M686.4 451.3 v-2.4 M705.0 786.4 v2.4 M705.0 451.3 v-2.4 M719.4 786.4 v2.4 M719.4 451.3 v-2.4 M731.2 786.4 v2.4 M731.2 451.3 v-2.4 M741.1 786.4 v2.4 M741.1 451.3 v-2.4 M749.8 786.4 v2.4 M749.8 451.3 v-2.4 M757.4 786.4 v2.4 M757.4 451.3 v-2.4 M764.2 786.4 v4.6 M764.2 451.3 v-4.6 M808.9 786.4 v2.4 M808.9 451.3 v-2.4 M835.1 786.4 v2.4 M835.1 451.3 v-2.4 M853.7 786.4 v2.4 M853.7 451.3 v-2.4 M868.1 786.4 v2.4 M868.1 451.3 v-2.4 M879.9 786.4 v2.4 M879.9 451.3 v-2.4 M889.8 786.4 v2.4 M889.8 451.3 v-2.4 M898.5 786.4 v2.4 M898.5 451.3 v-2.4 M906.1 786.4 v2.4 M906.1 451.3 v-2.4 M912.9 786.4 v4.6 M912.9 451.3 v-4.6 M957.6 786.4 v2.4 M957.6 451.3 v-2.4 M983.8 786.4 v2.4 M983.8 451.3 v-2.4 M1002.4 786.4 v2.4 M1002.4 451.3 v-2.4 M1016.8 786.4 v2.4 M1016.8 451.3 v-2.4" stroke="#4d4d4d" stroke-width="1" fill="none"/>
<path d="M105.6 371.4 h-4.6 M105.6 287.6 h-4.6 M105.6 203.8 h-4.6 M105.6 120.1 h-4.6 M105.6 36.3 h-4.6" stroke="#4d4d4d" stroke-width="1" fill="none"/>
<path d="M551.7 371.4 h4.6 M551.7 287.6 h4.6 M551.7 203.8 h4.6 M551.7 120.1 h4.6 M551.7 36.3 h4.6" stroke="#4d4d4d" stroke-width="1" fill="none"/>
<path d="M570.7 371.4 h-4.6 M570.7 287.6 h-4.6 M570.7 203.8 h-4.6 M570.7 120.1 h-4.6 M570.7 36.3 h-4.6" stroke="#4d4d4d" stroke-width="1" fill="none"/>
<path d="M1017.4 371.4 h4.6 M1017.4 287.6 h4.6 M1017.4 203.8 h4.6 M1017.4 120.1 h4.6 M1017.4 36.3 h4.6" stroke="#4d4d4d" stroke-width="1" fill="none"/>
<path d="M105.6 786.4 h-4.6 M105.6 752.8 h-2.4 M105.6 733.1 h-2.4 M105.6 719.1 h-2.4 M105.6 708.3 h-2.4 M105.6 699.5 h-2.4 M105.6 692.0 h-2.4 M105.6 685.5 h-2.4 M105.6 679.8 h-2.4 M105.6 674.7 h-4.6 M105.6 641.1 h-2.4 M105.6 621.4 h-2.4 M105.6 607.4 h-2.4 M105.6 596.6 h-2.4 M105.6 587.8 h-2.4 M105.6 580.3 h-2.4 M105.6 573.8 h-2.4 M105.6 568.1 h-2.4 M105.6 563.0 h-4.6 M105.6 529.4 h-2.4 M105.6 509.7 h-2.4 M105.6 495.7 h-2.4 M105.6 484.9 h-2.4 M105.6 476.1 h-2.4 M105.6 468.6 h-2.4 M105.6 462.1 h-2.4 M105.6 456.4 h-2.4 M105.6 451.3 h-4.6" stroke="#4d4d4d" stroke-width="1" fill="none"/>
<path d="M551.7 786.4 h4.6 M551.7 752.8 h2.4 M551.7 733.1 h2.4 M551.7 719.1 h2.4 M551.7 708.3 h2.4 M551.7 699.5 h2.4 M551.7 692.0 h2.4 M551.7 685.5 h2.4 M551.7 679.8 h2.4 M551.7 674.7 h4.6 M551.7 641.1 h2.4 M551.7 621.4 h2.4 M551.7 607.4 h2.4 M551.7 596.6 h2.4 M551.7 587.8 h2.4 M551.7 580.3 h2.4 M551.7 573.8 h2.4 M551.7 568.1 h2.4 M551.7 563.0 h4.6 M551.7 529.4 h2.4 M551.7 509.7 h2.4 M551.7 495.7 h2.4 M551.7 484.9 h2.4 M551.7 476.1 h2.4 M551.7 468.6 h2.4 M551.7 462.1 h2.4 M551.7 456.4 h2.4 M551.7 451.3 h4.6" stroke="#4d4d4d" stroke-width="1" fill="none"/>
<path d="M570.7 786.4 h-4.6 M570.7 752.8 h-2.4 M570.7 733.1 h-2.4 M570.7 719.1 h-2.4 M570.7 708.3 h-2.4 M570.7 699.5 h-2.4 M570.7 692.0 h-2.4 M570.7 685.5 h-2.4 M570.7 679.8 h-2.4 M570.7 674.7 h-4.6 M570.7 641.1 h-2.4 M570.7 621.4 h-2.4 M570.7 607.4 h-2.4 M570.7 596.6 h-2.4 M570.7 587.8 h-2.4 M570.7 580.3 h-2.4 M570.7 573.8 h-2.4 M570.7 568.1 h-2.4 M570.7 563.0 h-4.6 M570.7 529.4 h-2.4 M570.7 509.7 h-2.4 M570.7 495.7 h-2.4 M570.7 484.9 h-2.4 M570.7 476.1 h-2.4 M570.7 468.6 h-2.4 M570.7 462.1 h-2.4 M570.7 456.4 h-2.4 M570.7 451.3 h-4.6" stroke="#4d4d4d" stroke-width="1" fill="none"/>
<path d="M1017.4 786.4 h4.6 M1017.4 752.8 h2.4 M1017.4 733.1 h2.4 M1017.4 719.1 h2.4 M1017.4 708.3 h2.4 M1017.4 699.5 h2.4 M1017.4 692.0 h2.4 M1017.4 685.5 h2.4 M1017.4 679.8 h2.4 M1017.4 674.7 h4.6 M1017.4 641.1 h2.4 M1017.4 621.4 h2.4 M1017.4 607.4 h2.4 M1017.4 596.6 h2.4 M1017.4 587.8 h2.4 M1017.4 580.3 h2.4 M1017.4 573.8 h2.4 M1017.4 568.1 h2.4 M1017.4 563.0 h4.6 M1017.4 529.4 h2.4 M1017.4 509.7 h2.4 M1017.4 495.7 h2.4 M1017.4 484.9 h2.4 M1017.4 476.1 h2.4 M1017.4 468.6 h2.4 M1017.4 462.1 h2.4 M1017.4 456.4 h2.4 M1017.4 451.3 h4.6" stroke="#4d4d4d" stroke-width="1" fill="none"/>
<path d="M130.73 190.23 A736.04 736.04 0 0 0 371.06 168.35" stroke="#d6d6d6" stroke-width="9.6" fill="none"/>
<path d="M131.10 185.25 A731.04 731.04 0 0 0 369.80 163.51" stroke="#000" stroke-width="2.7" fill="none"/>
<rect x="596.6" y="188" width="238.9" height="10.4" fill="#d6d6d6"/>
<path d="M596.6 187.6 H835.5" stroke="#000" stroke-width="2.6" fill="none"/>
<rect x="186.0" y="182.3" width="10.7" height="10.4" fill="#000"/>
<circle cx="191.3" cy="63.4" r="5.4" fill="#4d4d4d"/>
<circle cx="191.3" cy="127.2" r="5.4" fill="#4d4d4d"/>
<circle cx="191.3" cy="157.9" r="5.4" fill="#4d4d4d"/>
<circle cx="191.3" cy="173.1" r="5.4" fill="#4d4d4d"/>
<circle cx="191.3" cy="180.6" r="5.4" fill="#4d4d4d"/>
<rect x="235.7" y="181.6" width="8.6" height="8.6" fill="#fff" stroke="#000" stroke-width="1.9"/>
<path d="M205.0 152.5 V100" stroke="#000" stroke-width="2.6" fill="none"/>
<polygon points="205.0,83.3 198.4,101.8 211.6,101.8" fill="#000"/>
<rect x="651.1" y="182.3" width="10.7" height="10.4" fill="#000"/>
<circle cx="656.5" cy="63.4" r="5.4" fill="#4d4d4d"/>
<circle cx="656.5" cy="127.2" r="5.4" fill="#4d4d4d"/>
<circle cx="656.5" cy="157.9" r="5.4" fill="#4d4d4d"/>
<circle cx="656.5" cy="173.1" r="5.4" fill="#4d4d4d"/>
<circle cx="656.5" cy="180.6" r="5.4" fill="#4d4d4d"/>
<rect x="701.1" y="183.3" width="8.6" height="8.6" fill="#fff" stroke="#000" stroke-width="1.9"/>
<path d="M670.2 152.5 V100" stroke="#000" stroke-width="2.6" fill="none"/>
<polygon points="670.2,83.3 663.6,101.8 676.8,101.8" fill="#000"/>
<path d="M971.2 160.3 H1002" stroke="#000" stroke-width="2.6" fill="none"/>
<polygon points="1017.4,160.3 1000,154.8 1000,165.8" fill="#000"/>
<path d="M149.7 691.3 L448.6 467.3" stroke="#000" stroke-width="3.1" stroke-dasharray="2.9 2.8 8.3 2.8" fill="none"/>
<path d="M283.4 592 V568 H314.9" stroke="#000" stroke-width="2" fill="none"/>
<path d="M614.8 691.3 L913.7 467.3" stroke="#000" stroke-width="3.1" stroke-dasharray="2.9 2.8 8.3 2.8" fill="none"/>
<path d="M748.5 592 V568 H780.0" stroke="#000" stroke-width="2" fill="none"/>
<rect x="1146.2" y="538.90" width="9.6" height="33.80" fill="#ffffff"/>
<rect x="1146.2" y="505.40" width="9.6" height="33.80" fill="#dadada"/>
<rect x="1146.2" y="471.90" width="9.6" height="33.80" fill="#bfbfbf"/>
<rect x="1146.2" y="438.40" width="9.6" height="33.80" fill="#aaaaaa"/>
<rect x="1146.2" y="404.90" width="9.6" height="33.80" fill="#969696"/>
<rect x="1146.2" y="371.40" width="9.6" height="33.80" fill="#787878"/>
<rect x="1146.2" y="337.90" width="9.6" height="33.80" fill="#585858"/>
<rect x="1146.2" y="304.40" width="9.6" height="33.80" fill="#3c3c3c"/>
<rect x="1146.2" y="270.90" width="9.6" height="33.80" fill="#252525"/>
<rect x="1146.2" y="237.40" width="9.6" height="33.80" fill="#000000"/>
<rect x="1146.2" y="237.4" width="9.6" height="335.0" fill="none" stroke="#4d4d4d" stroke-width="1"/>
<path d="M1142.6 572.4 H1159.2 M1142.6 505.4 H1159.2 M1142.6 438.4 H1159.2 M1142.6 371.4 H1159.2 M1142.6 304.4 H1159.2 M1142.6 237.4 H1159.2" stroke="#4d4d4d" stroke-width="1" fill="none"/>
<text x="4.2" y="27.8" font-size="27.0" text-anchor="start">(<tspan class="i" font-size="28.5" dx="1.2">a</tspan><tspan dx="1.6">)</tspan></text>
<text x="574.2" y="27.8" font-size="27.0" text-anchor="start">(<tspan class="i" font-size="28.5" dx="1.2">b</tspan><tspan dx="1.6">)</tspan></text>
<text x="4.2" y="436.0" font-size="27.0" text-anchor="start">(<tspan class="i" font-size="28.5" dx="1.2">c</tspan><tspan dx="1.6">)</tspan></text>
<text x="574.6" y="436.0" font-size="27.0" text-anchor="start">(<tspan class="i" font-size="28.5" dx="1.2">d</tspan><tspan dx="1.6">)</tspan></text>
<text x="328.6" y="20.7" font-size="25.0" text-anchor="middle">Pipe</text>
<text x="794.0" y="20.7" font-size="25.0" text-anchor="middle">Boundary layer</text>
<text x="95.1" y="379.9" font-size="24.5" text-anchor="end">0</text>
<text x="1028.3" y="379.0" font-size="24.5" text-anchor="start">0</text>
<text x="97.5" y="296.0" font-size="24.5" text-anchor="end">0.2</text>
<text x="1028.3" y="295.1" font-size="24.5" text-anchor="start">0.2</text>
<text x="97.5" y="212.1" font-size="24.5" text-anchor="end">0.4</text>
<text x="1028.3" y="211.2" font-size="24.5" text-anchor="start">0.4</text>
<text x="97.5" y="128.2" font-size="24.5" text-anchor="end">0.6</text>
<text x="1028.3" y="127.3" font-size="24.5" text-anchor="start">0.6</text>
<text x="97.5" y="44.3" font-size="24.5" text-anchor="end">0.8</text>
<text x="1028.3" y="43.4" font-size="24.5" text-anchor="start">0.8</text>
<text x="99.9" y="459.7" font-size="24.5" text-anchor="end">10<tspan font-size="17.6" dx="0.8" dy="-9">0</tspan></text>
<text x="1026.3" y="458.7" font-size="24.5" text-anchor="start">10<tspan font-size="17.6" dx="0.8" dy="-9">0</tspan></text>
<text x="99.9" y="572.4" font-size="24.5" text-anchor="end">10<tspan font-size="17.6" dx="1.9" dy="-9">−1</tspan></text>
<text x="1026.3" y="570.8" font-size="24.5" text-anchor="start">10<tspan font-size="17.6" dx="1.9" dy="-9">−1</tspan></text>
<text x="99.9" y="685.0" font-size="24.5" text-anchor="end">10<tspan font-size="17.6" dx="1.9" dy="-9">−2</tspan></text>
<text x="1026.3" y="682.8" font-size="24.5" text-anchor="start">10<tspan font-size="17.6" dx="1.9" dy="-9">−2</tspan></text>
<text x="99.9" y="797.5" font-size="24.5" text-anchor="end">10<tspan font-size="17.6" dx="1.9" dy="-9">−3</tspan></text>
<text x="1026.3" y="794.9" font-size="24.5" text-anchor="start">10<tspan font-size="17.6" dx="1.9" dy="-9">−3</tspan></text>
<text x="149.2" y="821.2" font-size="24.5" text-anchor="middle">10<tspan font-size="17.6" dx="1.9" dy="-9">−1</tspan></text>
<text x="300.0" y="821.2" font-size="24.5" text-anchor="middle">10<tspan font-size="17.6" dx="0.8" dy="-9">0</tspan></text>
<text x="448.7" y="821.2" font-size="24.5" text-anchor="middle">10<tspan font-size="17.6" dx="0.8" dy="-9">1</tspan></text>
<text x="301.6" y="857.9" font-size="30.0" text-anchor="start"><tspan class="i">λ</tspan><tspan class="i" font-size="22" dy="5" dx="0.8">x</tspan><tspan font-size="38" dy="0.5" dx="1">/</tspan><tspan class="i" dy="-5.5" dx="1.2">R</tspan></text>
<text x="614.3" y="821.2" font-size="24.5" text-anchor="middle">10<tspan font-size="17.6" dx="1.9" dy="-9">−1</tspan></text>
<text x="765.1" y="821.2" font-size="24.5" text-anchor="middle">10<tspan font-size="17.6" dx="0.8" dy="-9">0</tspan></text>
<text x="913.8" y="821.2" font-size="24.5" text-anchor="middle">10<tspan font-size="17.6" dx="0.8" dy="-9">1</tspan></text>
<text x="766.8" y="857.9" font-size="30.0" text-anchor="start"><tspan class="i">λ</tspan><tspan class="i" font-size="22" dy="5" dx="0.8">x</tspan><tspan font-size="38" dy="0.5" dx="1">/</tspan><tspan class="i" dy="-5.5" dx="1.2">R</tspan></text>
<text x="0.8" y="212.4" font-size="30.0" text-anchor="start"><tspan class="i">z</tspan><tspan font-size="38" dy="5.5" dx="0.5">/</tspan><tspan class="i" dy="-5.5" dx="1.5">R</tspan></text>
<text x="0.8" y="627.0" font-size="30.0" text-anchor="start"><tspan class="i">z</tspan><tspan font-size="38" dy="5.5" dx="0.5">/</tspan><tspan class="i" dy="-5.5" dx="1.5">R</tspan></text>
<text x="1071.5" y="211.6" font-size="30.0" text-anchor="start"><tspan class="i">z</tspan><tspan font-size="38" dy="5.5" dx="0.5">/</tspan><tspan class="i" dy="-5.5" dx="1.5">δ</tspan></text>
<text x="1071.5" y="626.2" font-size="30.0" text-anchor="start"><tspan class="i">z</tspan><tspan font-size="38" dy="5.5" dx="0.5">/</tspan><tspan class="i" dy="-5.5" dx="1.5">δ</tspan></text>
<text x="212.0" y="131.0" font-size="24.8" text-anchor="start">Increasing <tspan class="i">z</tspan></text>
<text x="690.6" y="131.0" font-size="24.8" text-anchor="start">Increasing <tspan class="i">z</tspan></text>
<text x="860.8" y="166.4" font-size="24.7" text-anchor="start"><tspan class="i">z</tspan> <tspan font-size="29.5" dy="1">=</tspan><tspan dy="-1"> 0.6</tspan><tspan class="i">δ</tspan><tspan font-size="17.5" dy="4.5">99</tspan></text>
<text x="272.0" y="584.8" font-size="24.5" text-anchor="middle">1</text>
<text x="297.0" y="562.5" font-size="24.5" text-anchor="middle">1</text>
<text x="738.8" y="584.8" font-size="24.5" text-anchor="middle">1</text>
<text x="763.8" y="562.5" font-size="24.5" text-anchor="middle">1</text>
<text x="1163.5" y="580.4" font-size="24.5" text-anchor="start">0</text>
<text x="1163.5" y="513.4" font-size="24.5" text-anchor="start">0.2</text>
<text x="1163.5" y="446.4" font-size="24.5" text-anchor="start">0.4</text>
<text x="1163.5" y="379.4" font-size="24.5" text-anchor="start">0.6</text>
<text x="1163.5" y="312.4" font-size="24.5" text-anchor="start">0.8</text>
<text x="1163.5" y="245.4" font-size="24.5" text-anchor="start">1.0</text>
<text x="1137.5" y="622.5" font-size="31.0" text-anchor="start"><tspan class="i">γ</tspan><tspan font-size="20" dx="5.5" dy="-10">2</tspan><tspan class="i" font-size="20" dx="-10.5" dy="20">L</tspan></text>
</svg>
</body></html>
